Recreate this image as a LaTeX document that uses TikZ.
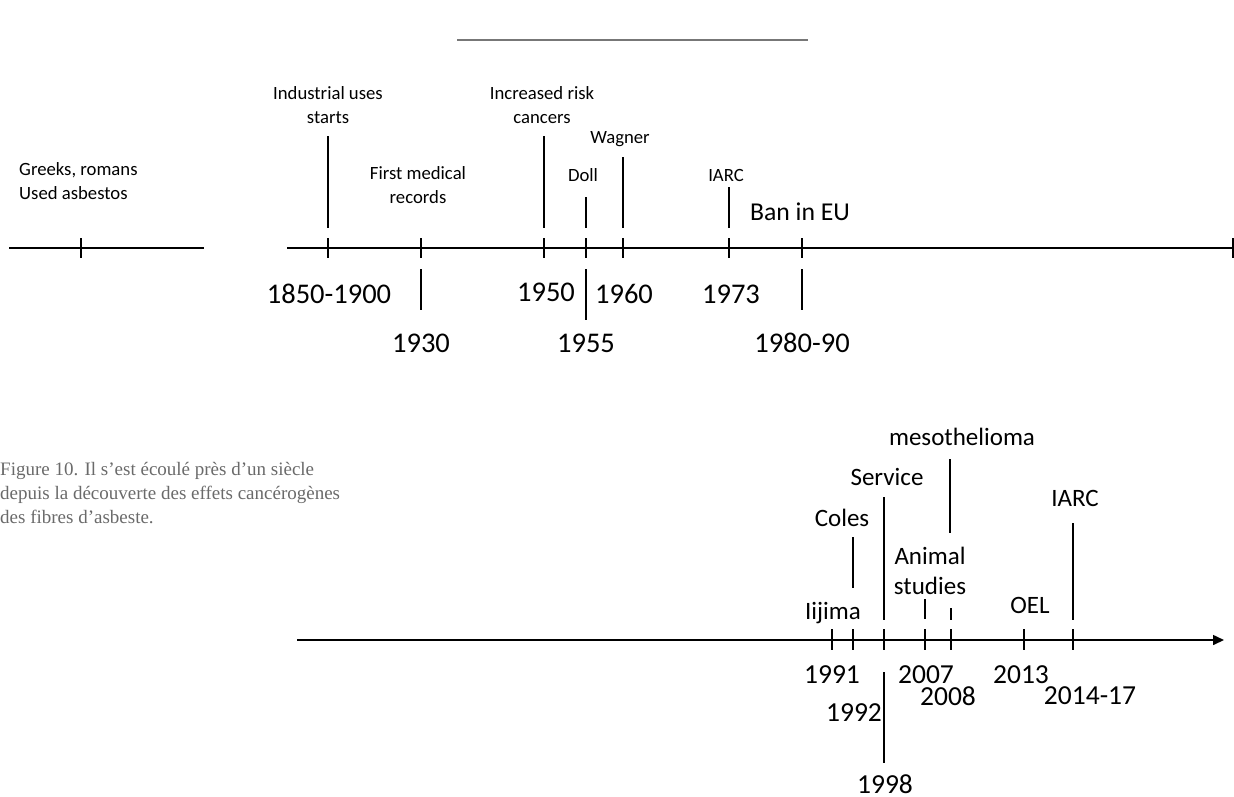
\documentclass[tikz,border=0pt]{standalone}
\usepackage{fontspec}
\setmainfont{Carlito}
\newfontfamily\captionfont{Liberation Serif}
\usetikzlibrary{arrows.meta, positioning}
\definecolor{rulegray}{HTML}{777777}
\definecolor{captiongray}{HTML}{6A6A6A}

\begin{document}
\begin{tikzpicture}[
    x=1pt, y=-1pt,
    axis/.style={line width=1.8pt},
    stem/.style={line width=1.7pt},
    note/.style={font=\fontsize{18.7}{24}\selectfont, align=center, inner sep=0pt},
    bignote/.style={font=\fontsize{25}{30}\selectfont, align=center, inner sep=0pt},
    year/.style={font=\fontsize{28.5}{34}\selectfont, inner sep=0pt},
    lowyear/.style={font=\fontsize{27.5}{33}\selectfont, inner sep=0pt}
]
    \useasboundingbox (0,0) rectangle (1234,796);

    % Rule on top
    \draw[rulegray, line width=2pt] (457,40) -- (808,40);

    % First timeline
    \draw[axis] (9,248) -- (204,248);
    \draw[axis] (287,248) -- (1233,248);
    \foreach \x in {81, 328, 421, 544, 586, 623, 729, 802, 1233}
        \draw[stem] (\x,238) -- (\x,258);
    \foreach \x/\a/\b in {328/136/228, 421/269/310, 544/136/228, 586/197/228,
                          586/269/320, 623/157/228, 729/187/228, 802/269/310}
        \draw[stem] (\x,\a) -- (\x,\b);

    % Events, first timeline
    \node[note, align=left, anchor=west] (greeks) at (19,181) {Greeks, romans\\Used asbestos};
    \node[note] (industrial) at (328,105) {Industrial uses\\starts};
    \node[note] (medical) at (418,185) {First medical\\records};
    \node[note] (risk) at (542,105) {Increased risk\\cancers};
    \node[note] (doll) at (583,175) {Doll};
    \node[note] (wagner) at (620,139) {Wagner};
    \node[note] (iarc1) at (726,175) {IARC};
    \node[font=\fontsize{25.7}{30}\selectfont, inner sep=0pt] (ban) at (800,212) {Ban in EU};

    % Years, first timeline
    \node[year] (y1850) at (329,294) {1850-1900};
    \node[year] (y1930) at (421,343) {1930};
    \node[year] (y1950) at (546,292) {1950};
    \node[year] (y1955) at (586,343) {1955};
    \node[year] (y1960) at (624,294) {1960};
    \node[year] (y1973) at (731,294) {1973};
    \node[year] (y1980) at (802,343) {1980-90};

    % Caption
    \node[font=\captionfont\fontsize{19}{24}\selectfont, text=captiongray, align=left,
          anchor=west, inner sep=0pt] (caption) at (0,493)
        {Figure 10. Il s’est écoulé près d’un siècle\\depuis la découverte des effets cancérogènes\\des fibres d’asbeste.};

    % Second timeline
    \draw[line width=1.5pt, -{Triangle[length=11pt, width=10pt]}] (297,640) -- (1224,640);
    \foreach \x in {832, 853, 884, 925, 951, 1024, 1073}
        \draw[line width=1.5pt] (\x,629) -- (\x,650);
    \foreach \x/\a/\b in {853/537/588, 884/497/620, 884/672/763, 925/599/619,
                          951/608/620, 950/459/533, 1073/523/620}
        \draw[line width=1.5pt] (\x,\a) -- (\x,\b);

    % Events, second timeline
    \node[bignote] (meso) at (962,437) {mesothelioma};
    \node[bignote] (service) at (887,477) {Service};
    \node[bignote] (coles) at (842,518) {Coles};
    \node[bignote] (iarc2) at (1075,498) {IARC};
    \node[bignote] (animal) at (930,571) {Animal\\studies};
    \node[bignote] (iijima) at (833,613) {Iijima};
    \node[bignote] (oel) at (1030,605) {OEL};

    % Years, second timeline
    \node[lowyear] (y1991) at (832,675) {1991};
    \node[lowyear] (y1992) at (854,713) {1992};
    \node[lowyear] (y2007) at (926,675) {2007};
    \node[lowyear] (y2008) at (948,696) {2008};
    \node[lowyear] (y2013) at (1021,675) {2013};
    \node[lowyear] (y2014) at (1090,696) {2014-17};
    \node[lowyear] (y1998) at (885,784) {1998};
\end{tikzpicture}
\end{document}
